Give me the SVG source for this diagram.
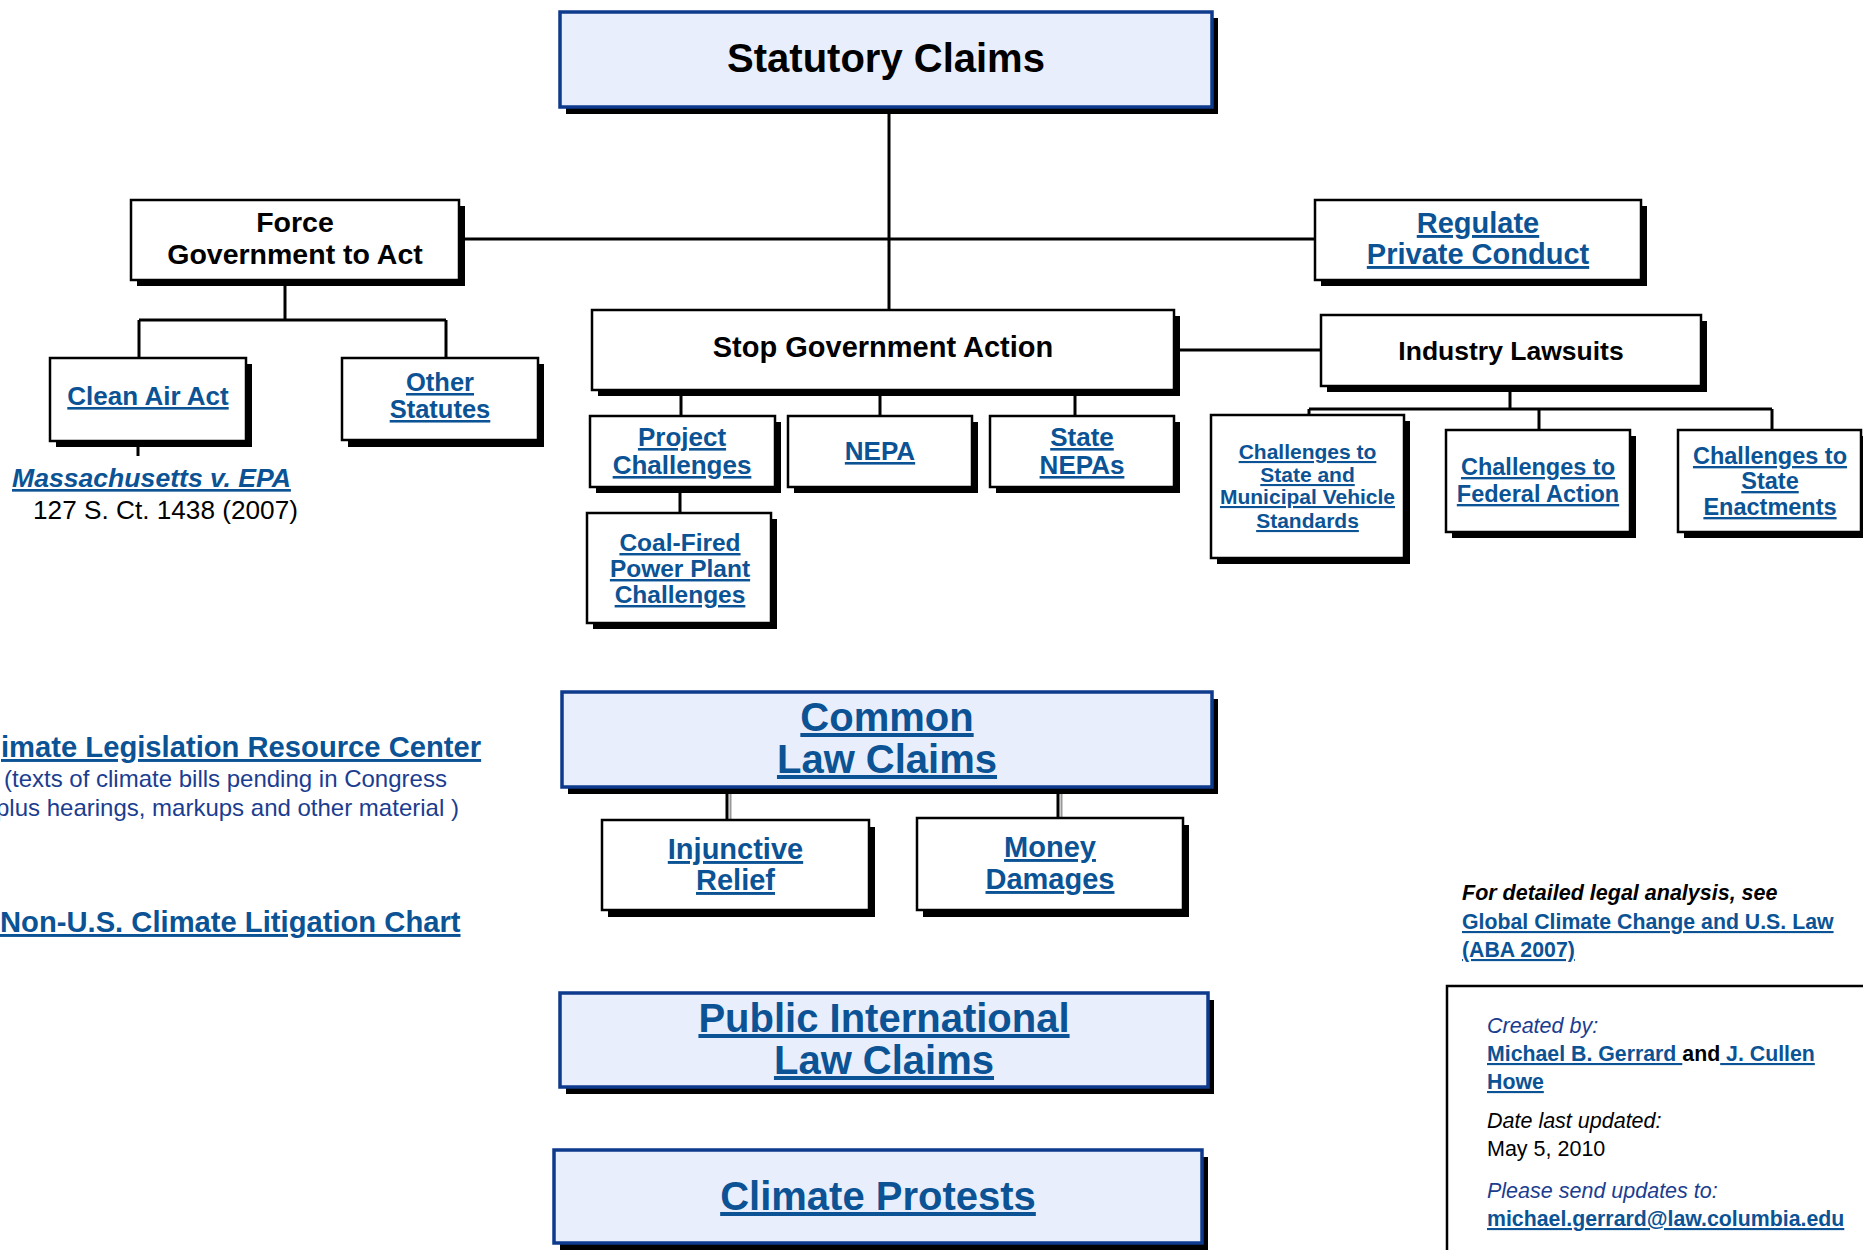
<svg xmlns="http://www.w3.org/2000/svg" width="1863" height="1250" viewBox="0 0 1863 1250">
<style>
.sh{fill:#000}
.bx{fill:#fff;stroke:#000;stroke-width:2.5}
.bb{fill:#E8EEFB;stroke:#0D3A8C;stroke-width:3.5}
text{font-family:"Liberation Sans",Arial,Helvetica,sans-serif}
.t{font-weight:bold;text-anchor:middle;fill:#000}
.lk{fill:#0B5394;text-decoration:underline}
.l{text-anchor:start}
.nv{fill:#1B3D8F}
.cn line{stroke:#000;stroke-width:3}
.cn line.g{stroke:#999;stroke-width:2}
</style>
<rect width="1863" height="1250" fill="#fff"/>
<g class="cn" id="connectors">
<line x1="889" y1="114" x2="889" y2="310"/>
<line x1="463" y1="239" x2="1315" y2="239"/>
<line x1="285" y1="286" x2="285" y2="320"/>
<line x1="139" y1="320" x2="446" y2="320"/>
<line x1="139" y1="320" x2="139" y2="358"/>
<line x1="446" y1="320" x2="446" y2="358"/>
<line x1="138" y1="447" x2="138" y2="456"/>
<line x1="1180" y1="350" x2="1321" y2="350"/>
<line x1="681" y1="396" x2="681" y2="416"/>
<line x1="880" y1="396" x2="880" y2="416"/>
<line x1="1075" y1="396" x2="1075" y2="416"/>
<line x1="680" y1="493" x2="680" y2="513"/>
<line x1="1510" y1="392" x2="1510" y2="409"/>
<line x1="1309" y1="409" x2="1772" y2="409"/>
<line x1="1309" y1="409" x2="1309" y2="415"/>
<line x1="1539" y1="409" x2="1539" y2="430"/>
<line x1="1772" y1="409" x2="1772" y2="430"/>
<line class="g" x1="730.5" y1="794" x2="730.5" y2="820"/>
<line x1="727" y1="794" x2="727" y2="820"/>
<line class="g" x1="1061.5" y1="794" x2="1061.5" y2="818"/>
<line x1="1058" y1="794" x2="1058" y2="818"/>
</g>
<g id="statutory">
<rect class="sh" x="566" y="18" width="652" height="96"/>
<rect class="bb" x="560" y="12" width="652" height="95"/>
<text class="t" x="886" y="72" font-size="40">Statutory Claims</text>
</g>
<g id="force">
<rect class="sh" x="137" y="206" width="328" height="80"/>
<rect class="bx" x="131" y="200" width="328" height="80"/>
<text class="t" x="295" y="232" font-size="28.5">Force</text>
<text class="t" x="295" y="264" font-size="28.5">Government to Act</text>
</g>
<g id="cleanair">
<rect class="sh" x="56" y="364" width="196" height="83"/>
<rect class="bx" x="50" y="358" width="196" height="83"/>
<text class="t lk" x="148" y="405" font-size="26">Clean Air Act</text>
</g>
<g id="mass">
<text class="t lk l" x="12" y="487" font-size="26.6" font-style="italic">Massachusetts v. EPA</text>
<text class="l" x="33" y="519" font-size="26.2" fill="#000">127 S. Ct. 1438 (2007)</text>
</g>
<g id="other">
<rect class="sh" x="348" y="364" width="196" height="83"/>
<rect class="bx" x="342" y="358" width="196" height="82"/>
<text class="t lk" x="440" y="391" font-size="25.5">Other</text>
<text class="t lk" x="440" y="418" font-size="25.5">Statutes</text>
</g>
<g id="regulate">
<rect class="sh" x="1321" y="206" width="326" height="80"/>
<rect class="bx" x="1315" y="200" width="326" height="80"/>
<text class="t lk" x="1478" y="233" font-size="29">Regulate</text>
<text class="t lk" x="1478" y="264" font-size="29">Private Conduct</text>
</g>
<g id="stop">
<rect class="sh" x="598" y="316" width="582" height="80"/>
<rect class="bx" x="592" y="310" width="582" height="80"/>
<text class="t" x="883" y="357" font-size="29">Stop Government Action</text>
</g>
<g id="industry">
<rect class="sh" x="1327" y="321" width="380" height="71"/>
<rect class="bx" x="1321" y="315" width="380" height="71"/>
<text class="t" x="1511" y="360" font-size="26.5">Industry Lawsuits</text>
</g>
<g id="project">
<rect class="sh" x="596" y="422" width="185" height="71"/>
<rect class="bx" x="590" y="416" width="185" height="71"/>
<text class="t lk" x="682" y="446" font-size="26">Project</text>
<text class="t lk" x="682" y="474" font-size="26">Challenges</text>
</g>
<g id="nepa">
<rect class="sh" x="794" y="422" width="184" height="71"/>
<rect class="bx" x="788" y="416" width="184" height="71"/>
<text class="t lk" x="880" y="460" font-size="26">NEPA</text>
</g>
<g id="statenepa">
<rect class="sh" x="996" y="422" width="184" height="71"/>
<rect class="bx" x="990" y="416" width="184" height="71"/>
<text class="t lk" x="1082" y="446" font-size="26">State</text>
<text class="t lk" x="1082" y="474" font-size="26">NEPAs</text>
</g>
<g id="coal">
<rect class="sh" x="593" y="519" width="184" height="110"/>
<rect class="bx" x="587" y="513" width="184" height="110"/>
<text class="t lk" x="680" y="551" font-size="24.5">Coal-Fired</text>
<text class="t lk" x="680" y="577" font-size="24.5">Power Plant</text>
<text class="t lk" x="680" y="603" font-size="24.5">Challenges</text>
</g>
<g id="municipal">
<rect class="sh" x="1217" y="421" width="193" height="143"/>
<rect class="bx" x="1211" y="415" width="193" height="143"/>
<text class="t lk" x="1307.5" y="459" font-size="21">Challenges to</text>
<text class="t lk" x="1307.5" y="482" font-size="21">State and</text>
<text class="t lk" x="1307.5" y="504" font-size="21">Municipal Vehicle</text>
<text class="t lk" x="1307.5" y="528" font-size="21">Standards</text>
</g>
<g id="federal">
<rect class="sh" x="1452" y="436" width="184" height="102"/>
<rect class="bx" x="1446" y="430" width="184" height="102"/>
<text class="t lk" x="1538" y="475" font-size="23.5">Challenges to</text>
<text class="t lk" x="1538" y="502" font-size="23.5">Federal Action</text>
</g>
<g id="enactments">
<rect class="sh" x="1684" y="436" width="190" height="102"/>
<rect class="bx" x="1678" y="430" width="183" height="102"/>
<text class="t lk" x="1770" y="464" font-size="23.5">Challenges to</text>
<text class="t lk" x="1770" y="489" font-size="23.5">State</text>
<text class="t lk" x="1770" y="515" font-size="23.5">Enactments</text>
</g>
<g id="common">
<rect class="sh" x="568" y="699" width="650" height="95"/>
<rect class="bb" x="562" y="692" width="650" height="95"/>
<text class="t lk" x="887" y="731" font-size="40">Common</text>
<text class="t lk" x="887" y="773" font-size="40">Law Claims</text>
</g>
<g id="injunctive">
<rect class="sh" x="608" y="827" width="267" height="90"/>
<rect class="bx" x="602" y="820" width="267" height="90"/>
<text class="t lk" x="735.5" y="859" font-size="29">Injunctive</text>
<text class="t lk" x="735.5" y="890" font-size="29">Relief</text>
</g>
<g id="money">
<rect class="sh" x="923" y="825" width="266" height="92"/>
<rect class="bx" x="917" y="818" width="266" height="92"/>
<text class="t lk" x="1050" y="857" font-size="29">Money</text>
<text class="t lk" x="1050" y="889" font-size="29">Damages</text>
</g>
<g id="public">
<rect class="sh" x="566" y="1000" width="648" height="94"/>
<rect class="bb" x="560" y="993" width="648" height="94"/>
<text class="t lk" x="884" y="1032" font-size="40">Public International</text>
<text class="t lk" x="884" y="1074" font-size="40">Law Claims</text>
</g>
<g id="protests">
<rect class="sh" x="560" y="1157" width="648" height="93"/>
<rect class="bb" x="554" y="1150" width="648" height="93"/>
<text class="t lk" x="878" y="1210" font-size="40">Climate Protests</text>
</g>
<g id="resources">
<text class="t lk l" x="1" y="757" font-size="29.2">imate Legislation Resource Center</text>
<text class="l nv" x="4" y="787" font-size="24">(texts of climate bills pending in Congress</text>
<text class="l nv" x="-4" y="816" font-size="24">plus hearings, markups and other material )</text>
<text class="t lk l" x="0" y="932" font-size="29.2">Non-U.S. Climate Litigation Chart</text>
</g>
<g id="analysis">
<text class="t l" x="1462" y="900" font-size="21.5" font-style="italic">For detailed legal analysis, see</text>
<text class="t lk l" x="1462" y="929" font-size="21.3">Global Climate Change and U.S. Law</text>
<text class="t lk l" x="1462" y="957" font-size="21.3">(ABA 2007)</text>
</g>
<g id="credits">
<rect class="bx" x="1447" y="986" width="430" height="280"/>
<text class="l nv" x="1487" y="1033" font-size="21.5" font-style="italic">Created by:</text>
<text class="t l" x="1487" y="1061" font-size="21.3"><tspan class="lk">Michael B. Gerrard </tspan><tspan>and</tspan><tspan class="lk"> J. Cullen</tspan></text>
<text class="t lk l" x="1487" y="1089" font-size="21.3">Howe</text>
<text class="l" x="1487" y="1128" font-size="21.5" font-style="italic" fill="#000">Date last updated:</text>
<text class="l" x="1487" y="1156" font-size="21.5" fill="#000">May 5, 2010</text>
<text class="l nv" x="1487" y="1198" font-size="21.5" font-style="italic">Please send updates to:</text>
<text class="t lk l" x="1487" y="1226" font-size="21.3">michael.gerrard@law.columbia.edu</text>
</g>
</svg>
